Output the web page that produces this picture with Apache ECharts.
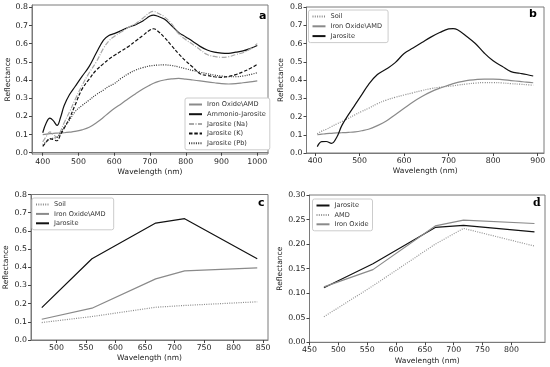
<!DOCTYPE html>
<html><head><meta charset="utf-8">
<script src="https://cdn.jsdelivr.net/npm/echarts@6/dist/echarts.min.js"></script>
<style>html,body{margin:0;padding:0;background:#fff}#c{width:550px;height:367px}</style>
</head><body><div id="c"></div>
<script>
// ---------- Panel a ----------
const wlA = [400,410,420,430,440,450,460,475,490,510,530,550,570,585,600,620,640,660,680,700,710,720,740,760,780,800,820,840,860,880,900,920,940,960,980,1000];
const ironA = [.100,.102,.105,.107,.108,.109,.110,.113,.117,.126,.140,.165,.195,.220,.243,.270,.298,.325,.350,.372,.382,.390,.400,.406,.409,.405,.400,.395,.390,.385,.380,.378,.380,.385,.390,.395];
const ammonioA = [.110,.165,.190,.175,.150,.195,.260,.320,.363,.420,.475,.550,.620,.645,.655,.672,.690,.705,.725,.752,.757,.752,.735,.700,.662,.637,.612,.585,.565,.553,.548,.547,.553,.560,.573,.590];
const naA = [.060,.090,.115,.100,.085,.120,.165,.225,.290,.370,.440,.500,.575,.615,.640,.665,.690,.710,.740,.772,.778,.770,.748,.710,.655,.622,.595,.567,.540,.530,.525,.528,.540,.550,.570,.600];
const kA = [.035,.060,.078,.072,.066,.100,.135,.190,.260,.350,.405,.455,.490,.515,.535,.560,.585,.615,.645,.675,.682,.672,.635,.590,.545,.505,.470,.435,.425,.418,.415,.420,.430,.445,.463,.486];
const pbA = [.045,.060,.075,.080,.085,.110,.140,.180,.225,.260,.290,.320,.345,.365,.380,.410,.435,.455,.468,.478,.480,.482,.483,.480,.472,.462,.452,.443,.435,.427,.422,.418,.418,.422,.430,.440];
const xTicksA = [400,500,600,700,800,900,1000];
const yTicksA = [0,0.1,0.2,0.3,0.4,0.5,0.6,0.7,0.8];

// ---------- Panel b ----------
const wlB = [405,415,425,437,449,460,475,490,505,520,540,560,580,600,620,640,660,680,700,710,720,740,760,780,800,820,840,860,875,890];
const jarB = [.035,.062,.063,.053,.088,.150,.210,.265,.320,.375,.430,.460,.495,.545,.575,.605,.635,.660,.680,.682,.675,.640,.600,.548,.505,.475,.446,.437,.430,.422];
const ironB = [.100,.103,.106,.108,.110,.111,.113,.116,.122,.130,.150,.175,.210,.245,.280,.310,.335,.355,.372,.380,.387,.397,.402,.405,.405,.402,.397,.392,.388,.385];
const soilB = [.105,.120,.130,.145,.160,.172,.190,.210,.228,.245,.270,.290,.305,.318,.330,.342,.353,.360,.366,.368,.372,.378,.383,.386,.386,.384,.380,.377,.374,.372];
const xTicksB = [400,500,600,700,800,900];

// ---------- Panel c ----------
const wlC = [475,560,668,717,840];
const soilC = [0.096,0.129,0.180,0.190,0.210];
const ironC = [0.114,0.175,0.336,0.380,0.397];
const jarC = [0.178,0.447,0.643,0.667,0.447];
const xTicksC = [500,550,600,650,700,750,800,850];

// ---------- Panel d ----------
const wlD = [475,560,668,717,840];
const jarD = [0.111,0.160,0.234,0.238,0.225];
const amdD = [0.052,0.115,0.200,0.232,0.196];
const ironD = [0.113,0.148,0.237,0.249,0.242];
const xTicksD = [450,500,550,600,650,700,750,800];
const yTicksD = [0,0.05,0.10,0.15,0.20,0.25,0.30];

const pairs = (xs, ys) => xs.map((x, i) => [x, ys[i]]);
const FONT = 'DejaVu Sans';
const FRAME = '#7a7a7a';
const BLACK = '#111111';
const GRAY = '#8a8a8a';
const LGRAY = '#a8a8a8';

function xAx(gi, min, max, ticks) {
  return {
    type: 'value', gridIndex: gi, min: min, max: max,
    axisLine: { show: true, lineStyle: { color: FRAME, width: 1 } },
    axisTick: { show: true, length: 3, customValues: ticks, lineStyle: { color: '#444' } },
    axisLabel: { customValues: ticks, fontSize: 7.8, color: '#222', margin: 4, fontFamily: FONT,
      formatter: v => String(Math.round(v)) },
    splitLine: { show: false },
    name: 'Wavelength (nm)', nameLocation: 'middle', nameGap: 14.5,
    nameTextStyle: { fontSize: 7.5, color: '#222', fontFamily: FONT }
  };
}
function yAx(gi, min, max, ticks, dec, gap) {
  return {
    type: 'value', gridIndex: gi, min: min, max: max,
    axisLine: { show: true, lineStyle: { color: FRAME, width: 1 } },
    axisTick: { show: true, length: 3, customValues: ticks, lineStyle: { color: '#444' } },
    axisLabel: { customValues: ticks, fontSize: 7.8, color: '#222', margin: 4, fontFamily: FONT,
      formatter: v => Number(v).toFixed(dec) },
    splitLine: { show: false },
    name: 'Reflectance', nameLocation: 'middle', nameGap: gap, nameRotate: 90,
    nameTextStyle: { fontSize: 7.5, color: '#222', fontFamily: FONT }
  };
}
function ser(name, gi, xs, ys, color, type, smooth, width) {
  return {
    name: name, type: 'line', xAxisIndex: gi, yAxisIndex: gi,
    data: pairs(xs, ys), symbol: 'none', smooth: smooth,
    lineStyle: { color: color, width: width || 1.2, type: type },
    itemStyle: { color: color }, z: 2
  };
}
function leg(names, left, top, gap) {
  return {
    data: names, orient: 'vertical', left: left, top: top,
    itemWidth: 13, itemHeight: 7, itemGap: gap,
    padding: [3, 4, 3, 3],
    backgroundColor: '#fff', borderColor: '#cccccc', borderWidth: 1, borderRadius: 2,
    itemStyle: { opacity: 0 },
    textStyle: { fontSize: 6.6, color: '#333', fontFamily: FONT },
    selectedMode: false
  };
}

const DASHDOT = [5, 1.5, 1, 1.5];
const DASH = [3.5, 1.8];
const DOT = [1, 1.3];

const chart = echarts.init(document.getElementById('c'), null, { renderer: 'canvas' });
chart.setOption({
  animation: false,
  backgroundColor: '#fff',
  grid: [
    { left: 32, top: 5, width: 236, height: 149, show: true, borderColor: FRAME, borderWidth: 1, backgroundColor: 'transparent' },
    { left: 306.5, top: 7, width: 237.5, height: 146, show: true, borderColor: FRAME, borderWidth: 1, backgroundColor: 'transparent' },
    { left: 31, top: 194.5, width: 237, height: 145.5, show: true, borderColor: FRAME, borderWidth: 1, backgroundColor: 'transparent' },
    { left: 309.5, top: 195, width: 235.5, height: 147.3, show: true, borderColor: FRAME, borderWidth: 1, backgroundColor: 'transparent' }
  ],
  xAxis: [
    xAx(0, 370, 1030, xTicksA),
    xAx(1, 380.75, 914.25, xTicksB),
    xAx(2, 456.75, 858.25, xTicksC),
    xAx(3, 450, 858.25, xTicksD)
  ],
  yAxis: [
    yAx(0, -0.007, 0.8127, yTicksA, 1, 20),
    yAx(1, 0, 0.8, yTicksA, 1, 21),
    yAx(2, 0, 0.8, yTicksA, 1, 20.5),
    yAx(3, 0, 0.3, yTicksD, 2, 25)
  ],
  legend: [
    leg(['Iron Oxide\\AMD', 'Ammonio-Jarosite', 'Jarosite (Na)', 'Jarosite (K)', 'Jarosite (Pb)'], 185, 98, 2.7),
    leg(['Soil', 'Iron Oxide\\AMD ', 'Jarosite'], 308.5, 10, 2.8),
    leg(['Soil ', 'Iron Oxide\\AMD  ', 'Jarosite '], 32, 198, 2.4),
    leg(['Jarosite  ', 'AMD', 'Iron Oxide'], 312.5, 199, 2.4)
  ],
  series: [
    ser('Iron Oxide\\AMD', 0, wlA, ironA, GRAY, 'solid', 0.4),
    ser('Ammonio-Jarosite', 0, wlA, ammonioA, BLACK, 'solid', 0.4),
    ser('Jarosite (Na)', 0, wlA, naA, LGRAY, DASHDOT, 0.4),
    ser('Jarosite (K)', 0, wlA, kA, BLACK, DASH, 0.4),
    ser('Jarosite (Pb)', 0, wlA, pbA, '#333', DOT, 0.4),

    ser('Soil', 1, wlB, soilB, GRAY, DOT, 0.4),
    ser('Iron Oxide\\AMD ', 1, wlB, ironB, GRAY, 'solid', 0.4),
    ser('Jarosite', 1, wlB, jarB, BLACK, 'solid', 0.4),

    ser('Soil ', 2, wlC, soilC, GRAY, DOT, false),
    ser('Iron Oxide\\AMD  ', 2, wlC, ironC, GRAY, 'solid', false),
    ser('Jarosite ', 2, wlC, jarC, BLACK, 'solid', false),

    ser('Jarosite  ', 3, wlD, jarD, BLACK, 'solid', false),
    ser('AMD', 3, wlD, amdD, '#959595', DOT, false),
    ser('Iron Oxide', 3, wlD, ironD, GRAY, 'solid', false)
  ],
  graphic: [
    { type: 'text', left: 259, top: 11, style: { text: 'a', font: 'bold 11px "DejaVu Sans"', fill: '#000' } },
    { type: 'text', left: 529, top: 9, style: { text: 'b', font: 'bold 11px "DejaVu Sans"', fill: '#000' } },
    { type: 'text', left: 258, top: 198, style: { text: 'c', font: 'bold 11px "DejaVu Sans"', fill: '#000' } },
    { type: 'text', left: 533, top: 198, style: { text: 'd', font: 'bold 11px "DejaVu Serif"', fill: '#000' } }
  ]
});
</script>
</body></html>
